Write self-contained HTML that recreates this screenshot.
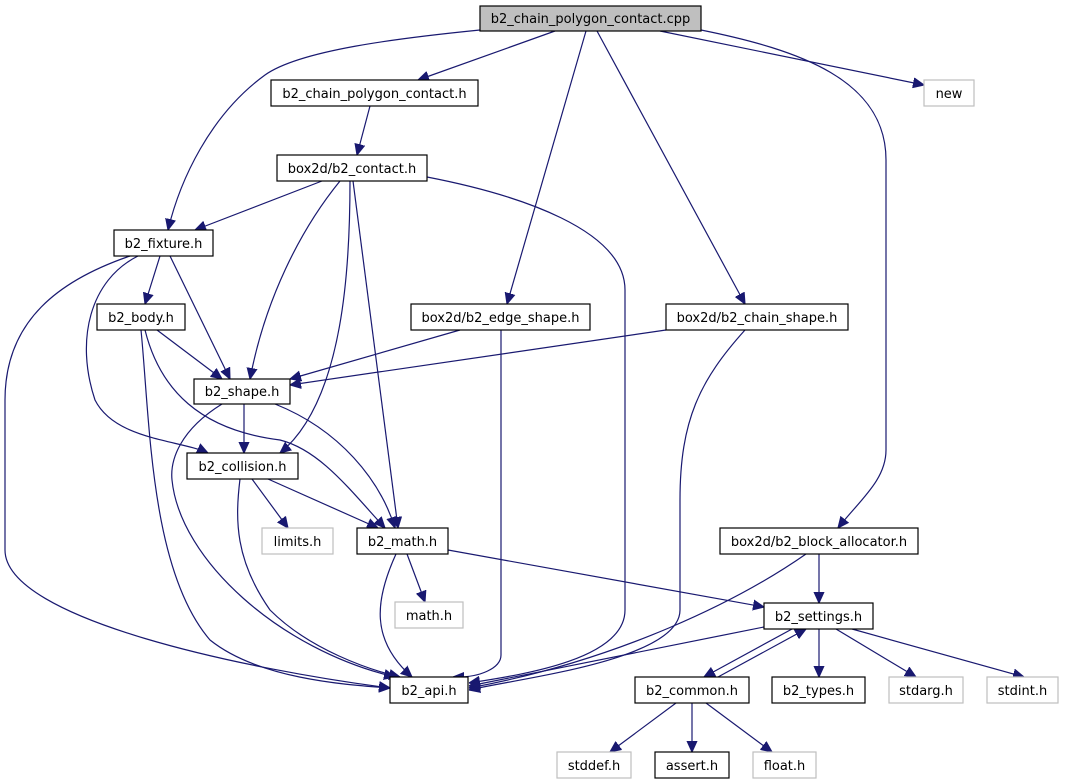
<!DOCTYPE html>
<html><head><meta charset="utf-8"><style>
html,body{margin:0;padding:0;background:#fff}
svg{display:block}
text{font-family:"DejaVu Sans","Liberation Sans",sans-serif;font-size:13px;fill:#000;text-anchor:middle}
.e{fill:none;stroke:#191970;stroke-width:1.2}
.n{fill:#fff;stroke:#000;stroke-width:1.2}
.g{fill:#fff;stroke:#bfbfbf;stroke-width:1.2}
</style></head><body>
<svg width="1067" height="784" viewBox="0 0 1067 784">
<defs><marker id="a" viewBox="0 0 10 10" refX="10" refY="5" markerWidth="11" markerHeight="11" markerUnits="userSpaceOnUse" orient="auto"><path d="M0,0.5L10,5L0,9.5z" fill="#191970" stroke="#191970"/></marker></defs>
<g marker-end="url(#a)">
<path class="e" d="M480,30 C400,38 300,50 265,75 C210,115 180,180 168,230"/>
<path class="e" d="M555,31 L418,80"/>
<path class="e" d="M586,31 L507,304"/>
<path class="e" d="M597,31 L745,304"/>
<path class="e" d="M660,31 L924,85"/>
<path class="e" d="M701,30 C800,50 886,80 886,160 L886,450 C886,480 860,500 838,528"/>
<path class="e" d="M370,106 L357,155"/>
<path class="e" d="M322,181 L195,230"/>
<path class="e" d="M340,181 C300,230 265,300 250,379"/>
<path class="e" d="M350,181 C350,260 345,400 280,453"/>
<path class="e" d="M353,181 L398,528"/>
<path class="e" d="M427,177 C520,195 625,230 625,290 L625,610 C625,660 520,675 469,683"/>
<path class="e" d="M160,256 L145,304"/>
<path class="e" d="M170,256 L230,379"/>
<path class="e" d="M138,256 C90,280 75,340 95,400 C115,440 180,440 208,453"/>
<path class="e" d="M130,256 C60,280 5,320 5,400 L5,550 C5,620 250,670 390,688"/>
<path class="e" d="M157,330 L222,379"/>
<path class="e" d="M145,330 C160,390 200,430 280,440 C320,450 350,490 385,528"/>
<path class="e" d="M141,330 C150,420 150,570 210,640 C260,680 350,685 390,688"/>
<path class="e" d="M460,330 L290,379"/>
<path class="e" d="M501,330 L501,655 C501,668 480,678 453,677"/>
<path class="e" d="M666,330 L290,385"/>
<path class="e" d="M745,330 C700,380 680,420 680,500 L680,610 C680,660 520,678 469,690"/>
<path class="e" d="M244,404 L244,453"/>
<path class="e" d="M275,404 C340,430 380,480 395,528"/>
<path class="e" d="M222,404 C180,430 170,460 172,480 C180,560 280,650 395,677"/>
<path class="e" d="M252,479 L288,528"/>
<path class="e" d="M268,479 L378,528"/>
<path class="e" d="M240,479 C235,520 235,560 270,610 C310,650 370,670 400,677"/>
<path class="e" d="M407,554 L425,602"/>
<path class="e" d="M396,554 C375,600 370,640 412,677"/>
<path class="e" d="M448,550 L764,607"/>
<path class="e" d="M819,554 L819,603"/>
<path class="e" d="M806,554 C740,600 620,660 469,688"/>
<path class="e" d="M764,627 L469,686"/>
<path class="e" d="M792,629 L704,677"/>
<path class="e" d="M718,677 L806,629"/>
<path class="e" d="M819,629 L819,677"/>
<path class="e" d="M836,629 L916,677"/>
<path class="e" d="M852,629 L1024,677"/>
<path class="e" d="M676,703 L610,752"/>
<path class="e" d="M692,703 L692,752"/>
<path class="e" d="M706,703 L772,752"/>
</g>
<rect x="480" y="6" width="221" height="25" fill="#bfbfbf" stroke="#000" stroke-width="1.2"/><text x="590.5" y="23">b2_chain_polygon_contact.cpp</text>
<rect class="g" x="924" y="80" width="50" height="26"/><text x="949" y="98">new</text>
<rect class="n" x="271" y="80" width="207" height="26"/><text x="374.5" y="98">b2_chain_polygon_contact.h</text>
<rect class="n" x="277" y="155" width="150" height="26"/><text x="352" y="173">box2d/b2_contact.h</text>
<rect class="n" x="114" y="230" width="99" height="26"/><text x="163.5" y="248">b2_fixture.h</text>
<rect class="n" x="97" y="304" width="88" height="26"/><text x="141" y="322">b2_body.h</text>
<rect class="n" x="411" y="304" width="179" height="26"/><text x="500.5" y="322">box2d/b2_edge_shape.h</text>
<rect class="n" x="666" y="304" width="182" height="26"/><text x="757" y="322">box2d/b2_chain_shape.h</text>
<rect class="n" x="194" y="379" width="96" height="25"/><text x="242" y="396">b2_shape.h</text>
<rect class="n" x="187" y="453" width="111" height="26"/><text x="242.5" y="471">b2_collision.h</text>
<rect class="g" x="262" y="528" width="71" height="26"/><text x="297.5" y="546">limits.h</text>
<rect class="n" x="357" y="528" width="91" height="26"/><text x="402.5" y="546">b2_math.h</text>
<rect class="n" x="720" y="528" width="198" height="26"/><text x="819" y="546">box2d/b2_block_allocator.h</text>
<rect class="g" x="395" y="602" width="68" height="26"/><text x="429" y="620">math.h</text>
<rect class="n" x="764" y="603" width="109" height="26"/><text x="818.5" y="621">b2_settings.h</text>
<rect class="n" x="390" y="677" width="78" height="26"/><text x="429" y="695">b2_api.h</text>
<rect class="n" x="635" y="677" width="114" height="26"/><text x="692" y="695">b2_common.h</text>
<rect class="n" x="772" y="677" width="93" height="26"/><text x="818.5" y="695">b2_types.h</text>
<rect class="g" x="889" y="677" width="74" height="26"/><text x="926" y="695">stdarg.h</text>
<rect class="g" x="987" y="677" width="71" height="26"/><text x="1022.5" y="695">stdint.h</text>
<rect class="g" x="557" y="752" width="74" height="26"/><text x="594" y="770">stddef.h</text>
<rect class="n" x="655" y="752" width="74" height="26"/><text x="692" y="770">assert.h</text>
<rect class="g" x="753" y="752" width="63" height="26"/><text x="784.5" y="770">float.h</text>
</svg>
</body></html>
